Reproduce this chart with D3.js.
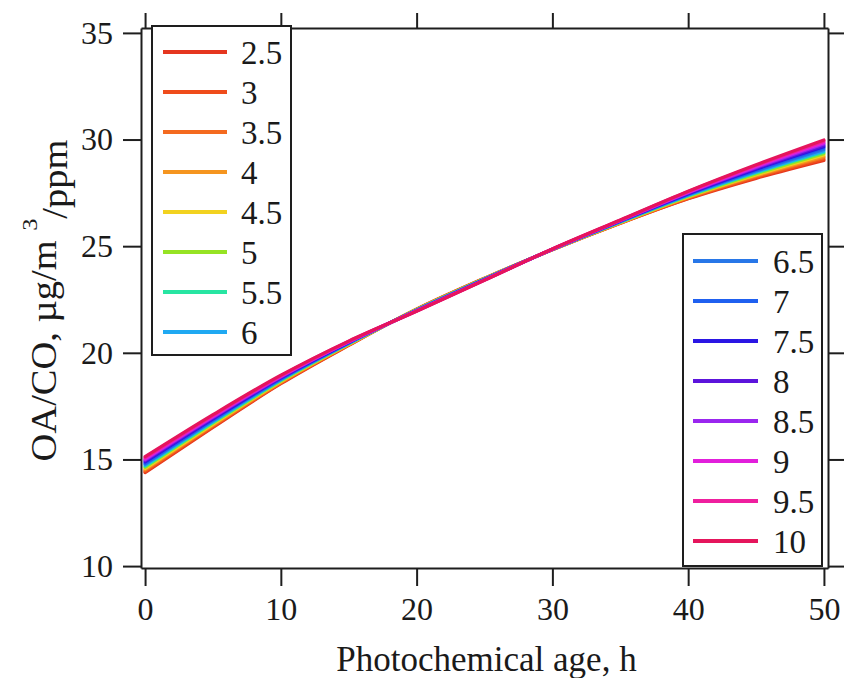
<!DOCTYPE html>
<html>
<head>
<meta charset="utf-8">
<script src="https://cdn.jsdelivr.net/npm/d3@7"></script>
<style>
  html, body { margin: 0; padding: 0; background: #fff; }
  svg { display: block; }
  text { font-family: "Liberation Serif", "Times New Roman", serif; fill: #1a1a1a; }
</style>
</head>
<body>
<svg id="chart" width="846" height="678"></svg>
<script>
// ---- Data ----
const ages = [0, 5, 10, 15, 20, 25, 30, 35, 40, 45, 50];
const ratioLabels = ["2.5", "3", "3.5", "4", "4.5", "5", "5.5", "6", "6.5", "7", "7.5", "8", "8.5", "9", "9.5", "10"];
const ratioColors = ["#e5361f", "#ef4c1b", "#f46a1f", "#f5951f", "#f2d21f", "#96e324", "#27e5a2", "#1fa9f2",
                     "#2877e8", "#1f60f0", "#2a16e4", "#5c14dc", "#9a26ef", "#e21fdb", "#ef1f9e", "#e5155c"];
const r2_5 = [14.38, 16.50, 18.55, 20.35, 22.05, 23.50, 24.83, 26.07, 27.22, 28.18, 29.02];
const r3   = [14.43, 16.54, 18.58, 20.36, 22.04, 23.49, 24.83, 26.08, 27.24, 28.22, 29.08];
const r3_5 = [14.48, 16.58, 18.60, 20.38, 22.04, 23.49, 24.84, 26.09, 27.27, 28.27, 29.15];
const r4   = [14.53, 16.62, 18.63, 20.39, 22.03, 23.48, 24.84, 26.10, 27.29, 28.31, 29.21];
const r4_5 = [14.58, 16.66, 18.66, 20.40, 22.02, 23.47, 24.84, 26.11, 27.32, 28.35, 29.28];
const r5   = [14.63, 16.70, 18.68, 20.42, 22.02, 23.47, 24.84, 26.12, 27.34, 28.39, 29.34];
const r5_5 = [14.68, 16.74, 18.71, 20.43, 22.01, 23.46, 24.85, 26.13, 27.36, 28.44, 29.40];
const r6   = [14.73, 16.78, 18.74, 20.44, 22.00, 23.45, 24.85, 26.15, 27.39, 28.48, 29.47];
const r6_5 = [14.78, 16.82, 18.76, 20.46, 22.00, 23.45, 24.85, 26.16, 27.41, 28.52, 29.53];
const r7   = [14.83, 16.86, 18.79, 20.47, 21.99, 23.44, 24.85, 26.17, 27.44, 28.56, 29.60];
const r7_5 = [14.88, 16.90, 18.82, 20.48, 21.98, 23.43, 24.86, 26.18, 27.46, 28.61, 29.66];
const r8   = [14.93, 16.94, 18.84, 20.50, 21.98, 23.43, 24.86, 26.19, 27.48, 28.65, 29.72];
const r8_5 = [14.98, 16.98, 18.87, 20.51, 21.97, 23.42, 24.86, 26.20, 27.51, 28.69, 29.79];
const r9   = [15.03, 17.02, 18.90, 20.52, 21.96, 23.41, 24.86, 26.21, 27.53, 28.74, 29.85];
const r9_5 = [15.08, 17.06, 18.92, 20.54, 21.96, 23.41, 24.87, 26.22, 27.56, 28.78, 29.92];
const r10  = [15.13, 17.10, 18.95, 20.55, 21.95, 23.40, 24.87, 26.23, 27.58, 28.82, 29.98];
const seriesValues = [r2_5, r3, r3_5, r4, r4_5, r5, r5_5, r6, r6_5, r7, r7_5, r8, r8_5, r9, r9_5, r10];
const xTicks = [0, 10, 20, 30, 40, 50];
const yTicks = [10, 15, 20, 25, 30, 35];
const xTitle = "Photochemical age, h";
const legendLeftCount = 8;

// ---- Layout ----
const svg = d3.select("#chart");
const frame = { left: 141, right: 828, top: 28, bottom: 568 };
const x = d3.scaleLinear().domain([-0.3, 50.3]).range([frame.left, frame.right]);
const y = d3.scaleLinear().domain([9.91, 35.23]).range([frame.bottom, frame.top]);

const axisColor = "#1e1e1e";
function styleAxis(g) {
  g.select(".domain").attr("stroke", axisColor).attr("stroke-width", 2);
  g.selectAll(".tick line").attr("stroke", axisColor).attr("stroke-width", 2);
}

// bottom axis
const gx = svg.append("g").attr("transform", `translate(0,${frame.bottom})`)
  .call(d3.axisBottom(x).tickValues(xTicks).tickSize(18).tickPadding(11).tickSizeOuter(0));
styleAxis(gx);
gx.selectAll("text").attr("font-size", 32).attr("fill", "#1a1a1a");

// top axis (mirror ticks, no labels)
const gxt = svg.append("g").attr("transform", `translate(0,${frame.top})`)
  .call(d3.axisTop(x).tickValues(xTicks).tickSize(15).tickFormat("").tickSizeOuter(0));
styleAxis(gxt);

// left axis
const gy = svg.append("g").attr("transform", `translate(${frame.left},0)`)
  .call(d3.axisLeft(y).tickValues(yTicks).tickSize(18).tickPadding(10).tickSizeOuter(0));
styleAxis(gy);
gy.selectAll("text").attr("font-size", 32).attr("fill", "#1a1a1a");

// right axis (mirror ticks, no labels)
const gyr = svg.append("g").attr("transform", `translate(${frame.right},0)`)
  .call(d3.axisRight(y).tickValues(yTicks).tickSize(16).tickFormat("").tickSizeOuter(0));
styleAxis(gyr);

// ---- Lines ----
const line = d3.line()
  .x((d, i) => x(ages[i]))
  .y(d => y(d))
  .curve(d3.curveCatmullRom.alpha(0.5));

svg.append("g").selectAll("path")
  .data(seriesValues)
  .join("path")
  .attr("d", d => line(d))
  .attr("fill", "none")
  .attr("stroke", (d, i) => ratioColors[i])
  .attr("stroke-width", 3.2)
  .attr("stroke-linecap", "round");

// ---- Legends ----
function drawLegend(box, rows, startIdx, count) {
  const g = svg.append("g");
  g.append("rect")
    .attr("x", box.x).attr("y", box.y).attr("width", box.w).attr("height", box.h)
    .attr("fill", "#fff").attr("stroke", axisColor).attr("stroke-width", 2);
  for (let k = 0; k < count; k++) {
    const i = startIdx + k;
    const yy = rows.y0 + rows.dy * k;
    g.append("line")
      .attr("x1", rows.lx1).attr("x2", rows.lx2).attr("y1", yy).attr("y2", yy)
      .attr("stroke", ratioColors[i]).attr("stroke-width", 4);
    g.append("text")
      .attr("x", rows.tx).attr("y", yy).attr("dy", "0.35em")
      .attr("font-size", 33)
      .text(ratioLabels[i]);
  }
}
drawLegend({ x: 152, y: 26, w: 139, h: 329 }, { y0: 52, dy: 40, lx1: 163, lx2: 227, tx: 241 }, 0, legendLeftCount);
drawLegend({ x: 683, y: 234, w: 139, h: 332 }, { y0: 261, dy: 40, lx1: 693, lx2: 758, tx: 773 }, legendLeftCount, ratioLabels.length - legendLeftCount);

// ---- Titles ----
svg.append("text")
  .attr("x", (x(0) + x(50)) / 2 + 2).attr("y", 671)
  .attr("text-anchor", "middle").attr("font-size", 35)
  .text(xTitle);

const yt = svg.append("text")
  .attr("transform", `translate(56,${(y(10) + y(35)) / 2 + 1}) rotate(-90) scale(1.1,1)`)
  .attr("text-anchor", "middle").attr("font-size", 35);
yt.append("tspan").text("OA/CO, µg/m ");
yt.append("tspan").attr("dy", "-0.85em").attr("font-size", 22).text("3");
yt.append("tspan").attr("dy", "0.85em").text("/ppm");
</script>
</body>
</html>
